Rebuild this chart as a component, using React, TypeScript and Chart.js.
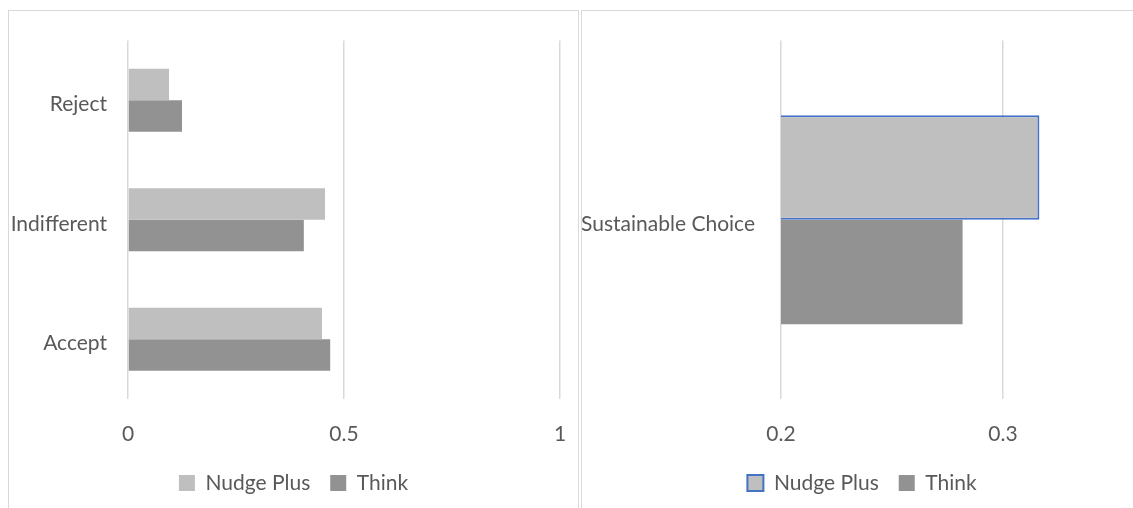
import React, { useEffect, useRef } from "react";
import { Chart, registerables } from "chart.js";

Chart.register(...registerables);

// Response shares by condition
const responseLabels = ["Reject", "Indifferent", "Accept"];
const responseNudgePlus = [0.095, 0.456, 0.449];
const responseThink = [0.125, 0.407, 0.468];
const responseAxisMin = 0;
const responseAxisMax = 1;
const responseAxisStep = 0.5;

// Share of sustainable choices by condition
const choiceLabels = ["Sustainable Choice"];
const choiceNudgePlus = [0.3164];
const choiceThink = [0.2818];
const choiceAxisMin = 0.2;
const choiceAxisMax = 0.35;
const choiceAxisStep = 0.1;

const seriesNames = ["Nudge Plus", "Think"];

const FONT_FAMILY = "Lato, 'Open Sans', sans-serif";
const FONT_SIZE = 21;
const TEXT_COLOR = "#595959";
const GRID_COLOR = "#D9D9D9";
const LIGHT_BAR = "#BFBFBF";
const DARK_BAR = "#929292";
const OUTLINE_BLUE = "#4472C4";

type PanelSpec = {
  labels: string[];
  first: number[];
  second: number[];
  min: number;
  max: number;
  step: number;
  yAxisWidth: number;
  yLabelGap: number;
  padRight: number;
  categoryPercentage: number;
  outlineFirst: boolean;
};

const PLOT_TOP = 29.5;
const X_AXIS_HEIGHT = 53.5;
const PAD_BOTTOM = 4.5;
const LEGEND_PADDING = 20;

// Let the legend span the whole canvas so it is centred in its frame
const fullWidthLegend = {
  id: "fullWidthLegend",
  afterLayout(chart: any) {
    const legend = chart.legend;
    if (!legend) return;
    legend.left = 0;
    legend.right = chart.width;
    legend.width = chart.width;
  },
};

function buildConfig(spec: PanelSpec): any {
  const font = { family: FONT_FAMILY, size: FONT_SIZE };
  return {
    type: "bar",
    data: {
      labels: spec.labels,
      datasets: [
        {
          label: seriesNames[0],
          data: spec.first,
          backgroundColor: LIGHT_BAR,
          borderColor: spec.outlineFirst ? OUTLINE_BLUE : LIGHT_BAR,
          borderWidth: spec.outlineFirst ? 2 : 0,
          borderSkipped: "start",
          barPercentage: 1,
          categoryPercentage: spec.categoryPercentage,
        },
        {
          label: seriesNames[1],
          data: spec.second,
          backgroundColor: DARK_BAR,
          borderColor: DARK_BAR,
          borderWidth: 0,
          barPercentage: 1,
          categoryPercentage: spec.categoryPercentage,
        },
      ],
    },
    plugins: [fullWidthLegend],
    options: {
      indexAxis: "y",
      responsive: false,
      animation: false,
      layout: {
        padding: { top: PLOT_TOP, left: 0, right: spec.padRight, bottom: PAD_BOTTOM },
      },
      plugins: {
        tooltip: { enabled: false },
        title: { display: false },
        legend: {
          display: true,
          position: "bottom",
          align: "center",
          labels: {
            color: TEXT_COLOR,
            font,
            boxWidth: 16,
            boxHeight: 16,
            padding: LEGEND_PADDING,
          },
        },
      },
      scales: {
        x: {
          type: "linear",
          position: "bottom",
          min: spec.min,
          max: spec.max,
          grid: {
            color: GRID_COLOR,
            lineWidth: 1.5,
            drawTicks: false,
          },
          border: { display: false },
          ticks: {
            stepSize: spec.step,
            includeBounds: false,
            color: TEXT_COLOR,
            font,
            padding: 22.4,
            maxRotation: 0,
            callback: (value: number) => String(Math.round(value * 100) / 100),
          },
          afterFit: (scale: any) => {
            scale.height = X_AXIS_HEIGHT;
            scale.paddingLeft = 0;
            scale.paddingRight = 0;
            scale.paddingTop = 0;
            scale.paddingBottom = 0;
          },
        },
        y: {
          type: "category",
          position: "left",
          grid: { display: false, drawTicks: false },
          border: { display: false },
          ticks: {
            color: TEXT_COLOR,
            font,
            padding: spec.yLabelGap,
            labelOffset: 4,
          },
          afterFit: (scale: any) => {
            scale.width = spec.yAxisWidth;
            scale.paddingLeft = 0;
            scale.paddingRight = 0;
            scale.paddingTop = 0;
            scale.paddingBottom = 0;
          },
        },
      },
    },
  };
}

function BarPanel({ spec, width, height }: { spec: PanelSpec; width: number; height: number }) {
  const ref = useRef<HTMLCanvasElement | null>(null);
  useEffect(() => {
    if (!ref.current) return;
    const chart = new Chart(ref.current, buildConfig(spec));
    return () => chart.destroy();
  }, [spec]);
  return <canvas ref={ref} width={width} height={height} style={{ display: "block" }} />;
}

const responseSpec: PanelSpec = {
  labels: responseLabels,
  first: responseNudgePlus,
  second: responseThink,
  min: responseAxisMin,
  max: responseAxisMax,
  step: responseAxisStep,
  yAxisWidth: 119,
  yLabelGap: 21,
  padRight: 18,
  categoryPercentage: 0.527,
  outlineFirst: false,
};

const choiceSpec: PanelSpec = {
  labels: choiceLabels,
  first: choiceNudgePlus,
  second: choiceThink,
  min: choiceAxisMin,
  max: choiceAxisMax,
  step: choiceAxisStep,
  yAxisWidth: 199,
  yLabelGap: 26,
  padRight: 28,
  categoryPercentage: 0.583,
  outlineFirst: true,
};

export default function App() {
  const frame: React.CSSProperties = {
    position: "absolute",
    boxSizing: "border-box",
    border: `1px solid ${GRID_COLOR}`,
    background: "#FFFFFF",
    height: 520,
    top: 10,
  };
  return (
    <div
      style={{
        position: "fixed",
        left: 0,
        top: 0,
        width: 1133,
        height: 508,
        overflow: "hidden",
        background: "#FFFFFF",
      }}
    >
      <div style={{ ...frame, left: 8, width: 571 }}>
        <BarPanel spec={responseSpec} width={569} height={497} />
      </div>
      <div style={{ ...frame, left: 581, width: 562 }}>
        <BarPanel spec={choiceSpec} width={560} height={497} />
      </div>
    </div>
  );
}
